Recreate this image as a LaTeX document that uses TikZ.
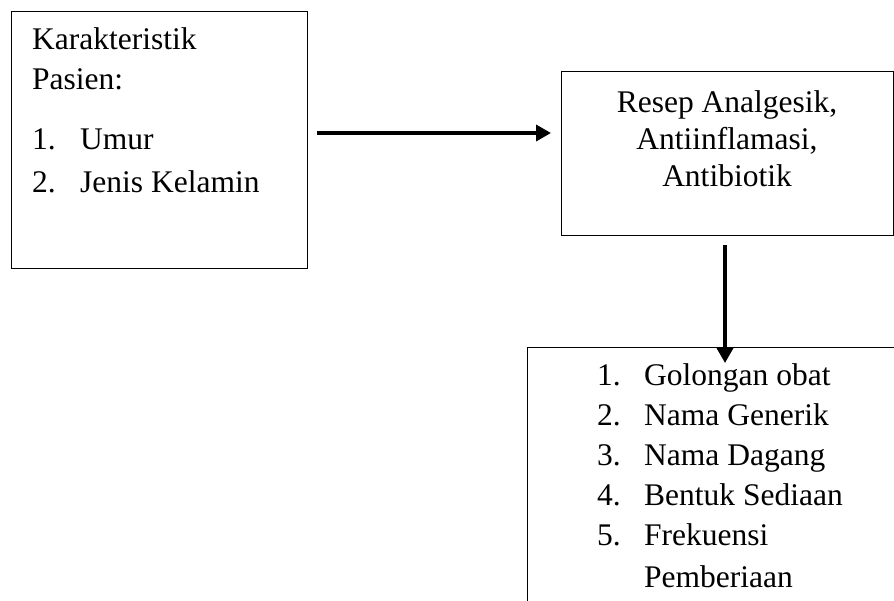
\documentclass[tikz,border=0pt]{standalone}
\usepackage{fontspec}
\setmainfont{Liberation Serif}
\usetikzlibrary{arrows.meta}
\begin{document}
\begin{tikzpicture}[x=1pt,y=-1pt,
  box/.style={draw, line width=1pt, inner sep=0pt, anchor=north west},
  txt/.style={anchor=base west, inner sep=0pt, font=\fontsize{31.5}{38}\selectfont},
  ctxt/.style={anchor=base, inner sep=0pt, font=\fontsize{31.5}{38}\selectfont},
  conn/.style={line width=3.5pt, -{Triangle[length=15pt,width=16pt]}}]
\useasboundingbox (0,0) rectangle (894,600);
\clip (0,0) rectangle (894,600);
% boxes
\node[box, minimum width=296pt, minimum height=257pt] (b1) at (11,11) {};
\node[box, minimum width=332pt, minimum height=164pt] (b2) at (561,71) {};
\node[box, minimum width=400pt, minimum height=300pt] (b3) at (527,347) {};
% box 1 text
\node[txt] (t11) at (32,49) {Karakteristik};
\node[txt] (t12) at (32,89) {Pasien:};
\node[txt] (t13n) at (32,149) {1.};
\node[txt] (t13) at (80,149) {Umur};
\node[txt] (t14n) at (32,192) {2.};
\node[txt] (t14) at (80,192) {Jenis Kelamin};
% box 2 text
\node[ctxt] (t21) at (727,112) {Resep Analgesik,};
\node[ctxt] (t22) at (727,149) {Antiinflamasi,};
\node[ctxt] (t23) at (727,186) {Antibiotik};
% box 3 text
\node[txt] (n1) at (597,385) {1.};
\node[txt] (i1) at (644,385) {Golongan obat};
\node[txt] (n2) at (597,425) {2.};
\node[txt] (i2) at (644,425) {Nama Generik};
\node[txt] (n3) at (597,465) {3.};
\node[txt] (i3) at (644,465) {Nama Dagang};
\node[txt] (n4) at (597,505) {4.};
\node[txt] (i4) at (644,505) {Bentuk Sediaan};
\node[txt] (n5) at (597,545) {5.};
\node[txt] (i5) at (644,545) {Frekuensi};
\node[txt] (i6) at (644,587) {Pemberiaan};
% connectors
\coordinate (a1s) at (317,133);
\coordinate (a1e) at (551,133);
\coordinate (a2s) at (725,245);
\coordinate (a2e) at (725,363);
\draw[conn] (a1s) -- (a1e);
\draw[conn] (a2s) -- (a2e);
\end{tikzpicture}
\end{document}
